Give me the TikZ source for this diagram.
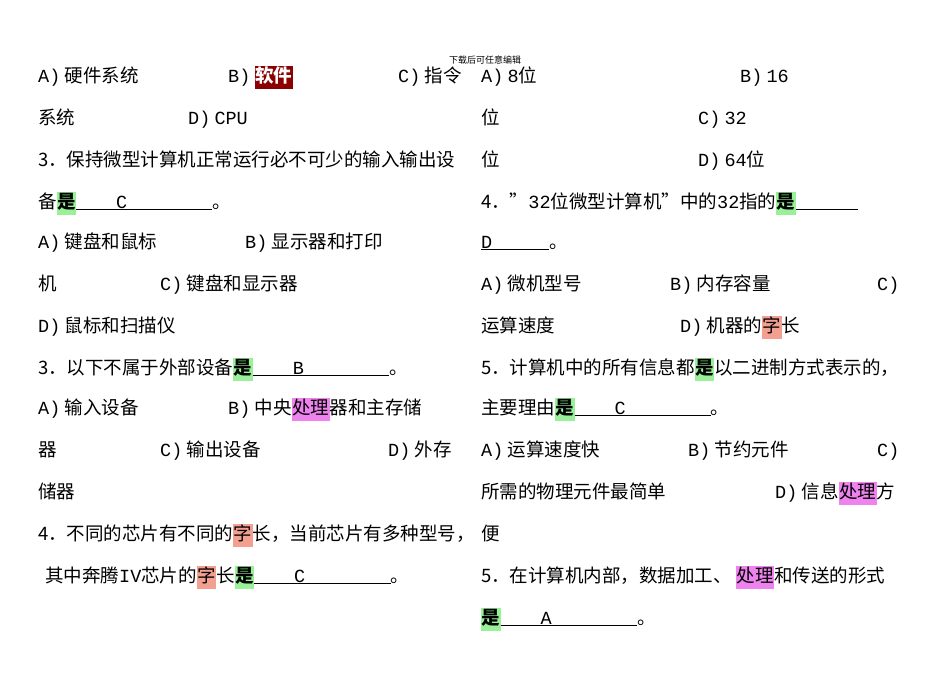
\documentclass[tikz,border=0pt]{standalone}
\usepackage{fontspec}
\setmainfont{Noto Sans CJK SC}
\newfontfamily\mono{Liberation Mono}
\newcommand{\m}[1]{{\mono #1}}
\definecolor{hlred}{HTML}{8B0000}
\definecolor{hlgreen}{HTML}{98F098}
\definecolor{hlsalmon}{HTML}{F4A090}
\definecolor{hlviolet}{HTML}{EE82EE}
\newcommand{\hl}[2]{{\setlength{\fboxsep}{0.5pt}\colorbox{#1}{\strut #2}}}
\newcommand{\blank}[3]{\underline{\hspace{#1}\m{#2}\hspace{#3}}}
\tikzset{t/.style={anchor=base west,inner sep=0pt,font=\fontsize{18.5}{20}\selectfont}}
\begin{document}
\begin{tikzpicture}[x=1pt,y=-1pt]
\useasboundingbox (0,0) rectangle (950,673);
\fill[white] (0,0) rectangle (950,673);
\node[anchor=center,font=\fontsize{9}{10}\selectfont] (hd) at (485,60) {下载后可任意编辑};
% left column
\node[t] (l1a) at (38,82) {\m{A)} 硬件系统};
\node[t] (l1b) at (228,82) {\m{B)} \hl{hlred}{\color{white}\bfseries 软件}};
\node[t] (l1c) at (398,82) {\m{C)} 指令};
\node[t] (l2a) at (38,124) {系统};
\node[t] (l2b) at (188,124) {\m{D)} \m{CPU}};
\node[t] (l3) at (38,166) {3．保持微型计算机正常运行必不可少的输入输出设};
\node[t] (l4) at (38,208) {备\hl{hlgreen}{\bfseries 是}\blank{14mm}{C}{30mm}。};
\node[t] (l5a) at (38,248) {\m{A)} 键盘和鼠标};
\node[t] (l5b) at (245,248) {\m{B)} 显示器和打印};
\node[t] (l6a) at (38,290) {机};
\node[t] (l6b) at (160,290) {\m{C)} 键盘和显示器};
\node[t] (l7) at (38,332) {\m{D)} 鼠标和扫描仪};
\node[t] (l8) at (38,374) {3．以下不属于外部设备\hl{hlgreen}{\bfseries 是}\blank{14mm}{B}{30mm}。};
\node[t] (l9a) at (38,414) {\m{A)} 输入设备};
\node[t] (l9b) at (228,414) {\m{B)} 中央\hl{hlviolet}{处理}器和主存储};
\node[t] (l10a) at (38,456) {器};
\node[t] (l10b) at (160,456) {\m{C)} 输出设备};
\node[t] (l10c) at (388,456) {\m{D)} 外存};
\node[t] (l11) at (38,498) {储器};
\node[t] (l12) at (38,540) {4．不同的芯片有不同的\hl{hlsalmon}{字}长，当前芯片有多种型号，};
\node[t] (l13) at (45,582) {其中奔腾\m{IV}芯片的\hl{hlsalmon}{字}长\hl{hlgreen}{\bfseries 是}\blank{14mm}{C}{30mm}。};
% right column
\node[t] (r1a) at (481,82) {\m{A)} \m{8}位};
\node[t] (r1b) at (740,82) {\m{B)} \m{16}};
\node[t] (r2a) at (481,124) {位};
\node[t] (r2b) at (698,124) {\m{C)} \m{32}};
\node[t] (r3a) at (481,166) {位};
\node[t] (r3b) at (698,166) {\m{D)} \m{64}位};
\node[t] (r4) at (481,208) {4．”\m{32}位微型计算机”中的\m{32}指的\hl{hlgreen}{\bfseries 是}\blank{22mm}{}{0mm}};
\node[t] (r5) at (481,248) {\underline{\m{D}\hspace{20mm}}。};
\node[t] (r6a) at (481,290) {\m{A)} 微机型号};
\node[t] (r6b) at (670,290) {\m{B)} 内存容量};
\node[t] (r6c) at (877,290) {\m{C)}};
\node[t] (r7a) at (481,332) {运算速度};
\node[t] (r7b) at (680,332) {\m{D)} 机器的\hl{hlsalmon}{字}长};
\node[t] (r8) at (481,374) {5．计算机中的所有信息都\hl{hlgreen}{\bfseries 是}以二进制方式表示的，};
\node[t] (r9) at (481,414) {主要理由\hl{hlgreen}{\bfseries 是}\blank{14mm}{C}{30mm}。};
\node[t] (r10a) at (481,456) {\m{A)} 运算速度快};
\node[t] (r10b) at (688,456) {\m{B)} 节约元件};
\node[t] (r10c) at (877,456) {\m{C)}};
\node[t] (r11a) at (481,498) {所需的物理元件最简单};
\node[t] (r11b) at (775,498) {\m{D)} 信息\hl{hlviolet}{处理}方};
\node[t] (r12) at (481,540) {便};
\node[t] (r13) at (481,582) {5．在计算机内部，数据加工、 \hl{hlviolet}{处理}和传送的形式};
\node[t] (r14) at (481,624) {\hl{hlgreen}{\bfseries 是}\blank{14mm}{A}{30mm}。};
\end{tikzpicture}
\end{document}
